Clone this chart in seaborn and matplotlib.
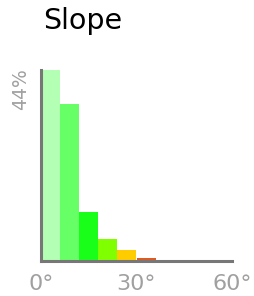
import matplotlib
matplotlib.use('Agg')
import matplotlib.pyplot as plt
import seaborn as sns
import pandas as pd

# slope histogram, 6 degree bins
bin_starts = [0, 6, 12, 18, 24, 30, 36]
shares = [44.0, 36.1, 11.3, 5.1, 2.5, 0.6, 0.2]
bar_colors = ['#b3ffb3', '#66ff66', '#1aff1a', '#80ff00', '#ffcc00', '#e05a20', '#a05050']
x_ticks = [0, 30, 60]
x_tick_labels = ['0°', '30°', '60°']

df = pd.DataFrame({
    'center': [b + 3 for b in bin_starts],
    'share': shares,
    'bin': [str(b) for b in bin_starts],
})

sns.set_style('white')
plt.rcParams['font.family'] = ['DejaVu Sans']

fig = plt.figure(figsize=(2.54, 2.96), dpi=100)
ax = fig.add_axes([41 / 254, 35 / 296, 191 / 254, 191 / 296])

sns.barplot(data=df, x='center', y='share', hue='bin', palette=bar_colors,
            native_scale=True, width=1, dodge=False, legend=False,
            saturation=1, linewidth=0, ax=ax)

ax.set_xlim(0, 60)
ax.set_ylim(0, 44)
ax.set_xticks(x_ticks)
ax.set_xticklabels(x_tick_labels, fontsize=16, color='#a0a0a0')
ax.set_yticks([])
ax.set_xlabel('')
ax.set_ylabel('')
ax.tick_params(axis='x', length=0, pad=9)

for side in ['top', 'right']:
    ax.spines[side].set_visible(False)
for side in ['left', 'bottom']:
    ax.spines[side].set_color('#777777')
    ax.spines[side].set_linewidth(2.2)

ax.text(-0.105, 1.01, '44%', transform=ax.transAxes, rotation=90,
        ha='center', va='top', fontsize=13.5, color='#a0a0a0')

fig.text(43 / 254, 1 - 7 / 296, 'Slope', ha='left', va='top',
         fontsize=20.5, color='black')

fig.savefig('out.png', dpi=100)
